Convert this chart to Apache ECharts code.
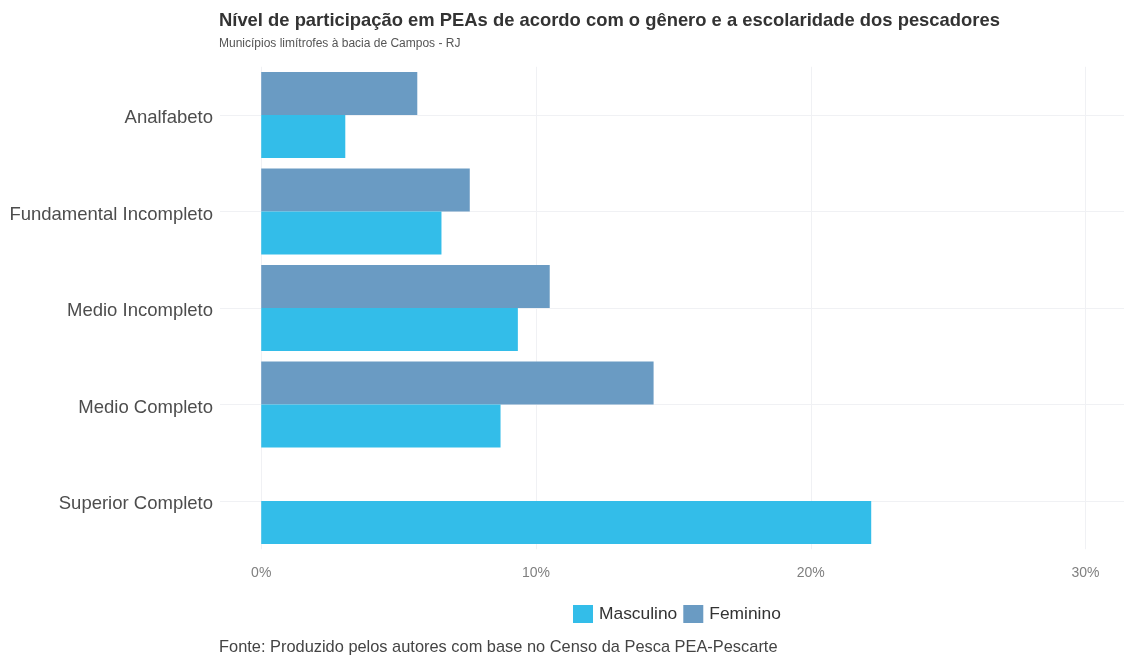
<!DOCTYPE html>
<html style="height: 100%" lang="pt">
<head>
  <meta charset="utf-8">
  <title>Nível de participação em PEAs</title>
</head>
<body style="height: 100%; margin: 0">
<div id="container" style="height: 657px; width: 1124px; background: #fff"></div>
<script type="text/javascript" src="https://cdn.jsdelivr.net/npm/echarts@6/dist/echarts.min.js"></script>
<script type="text/javascript">
  var categorias = ['Analfabeto', 'Fundamental Incompleto', 'Medio Incompleto', 'Medio Completo', 'Superior Completo'];
  var masculino = [3.06, 6.56, 9.34, 8.71, 22.2];
  var feminino = [5.68, 7.59, 10.5, 14.28, 0];

  var fonte = 'Liberation Sans, Arial, sans-serif';
  var dom = document.getElementById('container');
  var myChart = echarts.init(dom);

  var option = {
    animation: false,
    textStyle: { fontFamily: fonte },
    title: [
      {
        text: 'Nível de participação em PEAs de acordo com o gênero e a escolaridade dos pescadores',
        subtext: 'Municípios limítrofes à bacia de Campos - RJ',
        left: 214,
        top: 7,
        itemGap: 8,
        textStyle: { fontSize: 18.4, fontWeight: 'bold', color: '#333', fontFamily: fonte },
        subtextStyle: { fontSize: 12, color: '#555', fontFamily: fonte }
      },
      {
        text: 'Fonte: Produzido pelos autores com base no Censo da Pesca PEA-Pescarte',
        left: 214,
        top: 634,
        textStyle: { fontSize: 16.4, fontWeight: 'normal', color: '#444', fontFamily: fonte }
      }
    ],
    legend: {
      data: ['Masculino', 'Feminino'],
      left: 568,
      top: 600,
      itemWidth: 20,
      itemHeight: 18,
      itemGap: 6,
      icon: 'rect',
      textStyle: { fontSize: 17.4, color: '#333', padding: [0, 0, 0, 1] }
    },
    grid: {
      left: 220,
      right: 0,
      top: 66.75,
      bottom: 107.75,
      containLabel: false
    },
    xAxis: {
      type: 'value',
      min: -1.5,
      max: 31.4,
      splitNumber: 3,
      axisLine: { show: false },
      axisTick: { show: false },
      axisLabel: {
        showMinLabel: false,
        showMaxLabel: false,
        fontSize: 14,
        color: '#7f7f7f',
        margin: 17,
        formatter: function (v) { return v + '%'; }
      },
      splitLine: {
        show: true,
        lineStyle: { color: ['rgba(0,0,0,0)', '#f0f1f4', '#f0f1f4', '#f0f1f4', '#f0f1f4', 'rgba(0,0,0,0)'], width: 1 }
      }
    },
    yAxis: {
      type: 'category',
      data: categorias,
      inverse: true,
      axisLine: { show: false },
      axisTick: { show: false },
      axisLabel: {
        margin: 7,
        formatter: function (v) { return '{c|' + v + '}'; },
        rich: {
          c: { fontSize: 18.5, color: '#4d4d4d', fontFamily: fonte, padding: [6, 0, 0, 0] }
        }
      },
      splitLine: {
        show: true,
        alignWithLabel: true,
        lineStyle: { color: '#f0f1f4', width: 1 }
      }
    },
    series: [
      {
        name: 'Feminino',
        type: 'bar',
        data: feminino,
        barGap: '0%',
        barCategoryGap: '11%',
        itemStyle: { color: '#6a9bc3' }
      },
      {
        name: 'Masculino',
        type: 'bar',
        data: masculino,
        barGap: '0%',
        barCategoryGap: '11%',
        itemStyle: { color: '#33bde9' }
      }
    ]
  };

  myChart.setOption(option);
</script>
</body>
</html>
